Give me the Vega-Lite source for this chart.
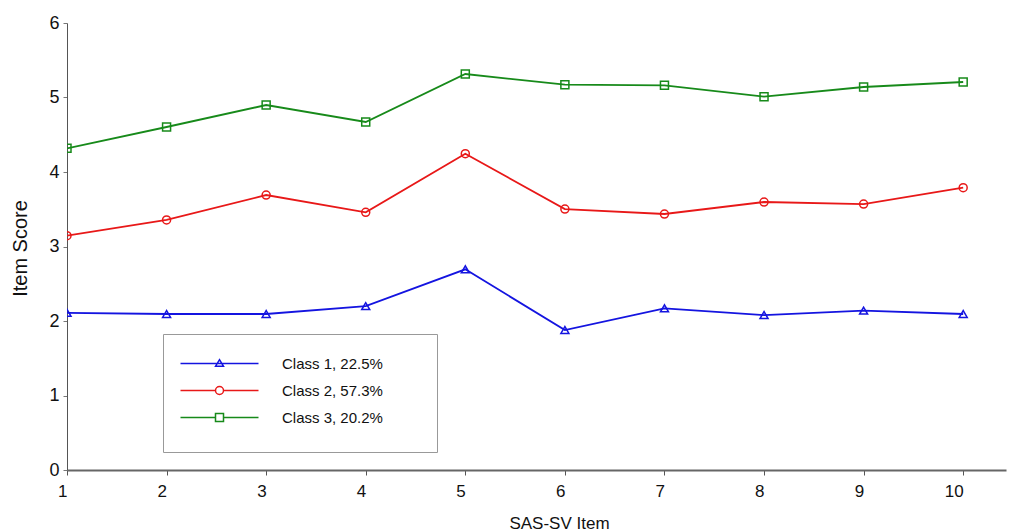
{
  "$schema": "https://vega.github.io/schema/vega-lite/v6.json",
  "autosize": {"type": "none"},
  "padding": {"left": 67, "top": 23, "right": 5, "bottom": 61},
  "width": 939,
  "height": 447,
  "background": "white",
  "config": {
    "view": {"stroke": null},
    "font": "Liberation Sans",
    "axis": {"grid": false, "labelFont": "Liberation Sans", "titleFont": "Liberation Sans", "labelColor": "#111", "titleColor": "#111", "titleFontWeight": "normal"}
  },
  "data": {
    "values": [
      {"item": 1, "cls": "Class 1, 22.5%", "score": 2.11},
      {"item": 2, "cls": "Class 1, 22.5%", "score": 2.094},
      {"item": 3, "cls": "Class 1, 22.5%", "score": 2.094},
      {"item": 4, "cls": "Class 1, 22.5%", "score": 2.2},
      {"item": 5, "cls": "Class 1, 22.5%", "score": 2.694},
      {"item": 6, "cls": "Class 1, 22.5%", "score": 1.879},
      {"item": 7, "cls": "Class 1, 22.5%", "score": 2.17},
      {"item": 8, "cls": "Class 1, 22.5%", "score": 2.08},
      {"item": 9, "cls": "Class 1, 22.5%", "score": 2.139},
      {"item": 10, "cls": "Class 1, 22.5%", "score": 2.094},
      {"item": 1, "cls": "Class 2, 57.3%", "score": 3.145},
      {"item": 2, "cls": "Class 2, 57.3%", "score": 3.356},
      {"item": 3, "cls": "Class 2, 57.3%", "score": 3.691},
      {"item": 4, "cls": "Class 2, 57.3%", "score": 3.459},
      {"item": 5, "cls": "Class 2, 57.3%", "score": 4.246},
      {"item": 6, "cls": "Class 2, 57.3%", "score": 3.503},
      {"item": 7, "cls": "Class 2, 57.3%", "score": 3.436},
      {"item": 8, "cls": "Class 2, 57.3%", "score": 3.597},
      {"item": 9, "cls": "Class 2, 57.3%", "score": 3.57},
      {"item": 10, "cls": "Class 2, 57.3%", "score": 3.79},
      {"item": 1, "cls": "Class 3, 20.2%", "score": 4.318},
      {"item": 2, "cls": "Class 3, 20.2%", "score": 4.604},
      {"item": 3, "cls": "Class 3, 20.2%", "score": 4.899},
      {"item": 4, "cls": "Class 3, 20.2%", "score": 4.671},
      {"item": 5, "cls": "Class 3, 20.2%", "score": 5.315},
      {"item": 6, "cls": "Class 3, 20.2%", "score": 5.172},
      {"item": 7, "cls": "Class 3, 20.2%", "score": 5.163},
      {"item": 8, "cls": "Class 3, 20.2%", "score": 5.011},
      {"item": 9, "cls": "Class 3, 20.2%", "score": 5.141},
      {"item": 10, "cls": "Class 3, 20.2%", "score": 5.208}
    ]
  },
  "encoding": {
    "x": {
      "field": "item", "type": "quantitative",
      "scale": {"domain": [1, 10.43], "nice": false, "zero": false},
      "axis": {
        "title": "SAS-SV Item", "values": [1,2,3,4,5,6,7,8,9,10], "format": "d",
        "labelFontSize": 17, "labelAlign": "right", "labelDx": 1, "labelPadding": 8,
        "tickSize": 5, "tickColor": "#555", "domainColor": "#666", "domainWidth": 2,
        "titleFontSize": 17, "titleX": 492, "titleY": 58, "titleAlign": "center", "titleBaseline": "alphabetic"
      }
    },
    "y": {
      "field": "score", "type": "quantitative",
      "scale": {"domain": [0, 6], "nice": false},
      "axis": {
        "title": "Item Score", "values": [0,1,2,3,4,5,6],
        "labelFontSize": 18, "labelPadding": 4, "tickSize": 4, "tickColor": "#777", "domainColor": "#555", "domainWidth": 1,
        "titleFontSize": 20, "titleX": -47, "titleY": 225, "titleAlign": "center", "titleBaseline": "middle"
      }
    }
  },
  "layer": [
    {
      "mark": {"type": "line", "strokeWidth": 1.8, "clip": true},
      "encoding": {
        "color": {"field": "cls", "type": "nominal", "scale": {"domain": ["Class 1, 22.5%", "Class 2, 57.3%", "Class 3, 20.2%"], "range": ["#1414e0", "#e81818", "#178a1a"]}, "legend": null}
      }
    },
    {
      "mark": {"type": "point", "filled": false, "size": 64, "strokeWidth": 1.5, "clip": true, "opacity": 1},
      "encoding": {
        "color": {"field": "cls", "type": "nominal", "legend": null},
        "shape": {
          "field": "cls", "type": "nominal",
          "scale": {"domain": ["Class 1, 22.5%", "Class 2, 57.3%", "Class 3, 20.2%"], "range": ["triangle-up", "circle", "square"]},
          "legend": null
        }
      }
    },
    {
      "mark": {"type": "point", "filled": false, "size": 64, "strokeWidth": 1.5, "clip": true, "opacity": 0},
      "encoding": {
        "color": {
          "field": "cls", "type": "nominal",
          "legend": {
            "title": null, "orient": "none", "legendX": 96, "legendY": 311,
            "strokeColor": "#999", "padding": 22, "rowPadding": 11,
            "labelFontSize": 15, "labelFont": "Liberation Sans", "labelColor": "#111",
            "symbolSize": 64, "symbolStrokeWidth": 1.5, "symbolOffset": 27, "labelOffset": 55,
            "symbolOpacity": 1, "symbolFillColor": "transparent"
          }
        },
        "shape": {
          "field": "cls", "type": "nominal",
          "scale": {"domain": ["Class 1, 22.5%", "Class 2, 57.3%", "Class 3, 20.2%"], "range": [
            "M-9.75,0H9.75M-1,0.7L0,-0.95L1,0.7ZM48,0",
            "M-9.75,0H-1M1,0H9.75M1,0A1,1 0 1,1 -1,0A1,1 0 1,1 1,0ZM48,0",
            "M-9.75,0H-1M1,0H9.75M-1,-1H1V1H-1ZM48,2.25"
          ]},
          "legend": {
            "title": null, "orient": "none", "legendX": 96, "legendY": 311,
            "strokeColor": "#999", "padding": 22, "rowPadding": 11,
            "labelFontSize": 15, "labelFont": "Liberation Sans", "labelColor": "#111",
            "symbolSize": 64, "symbolStrokeWidth": 1.5, "symbolOffset": 27, "labelOffset": 55,
            "symbolOpacity": 1, "symbolFillColor": "transparent"
          }
        }
      }
    }
  ],
  "resolve": {"scale": {"shape": "independent"}, "legend": {"color": "independent", "shape": "independent"}}
}
